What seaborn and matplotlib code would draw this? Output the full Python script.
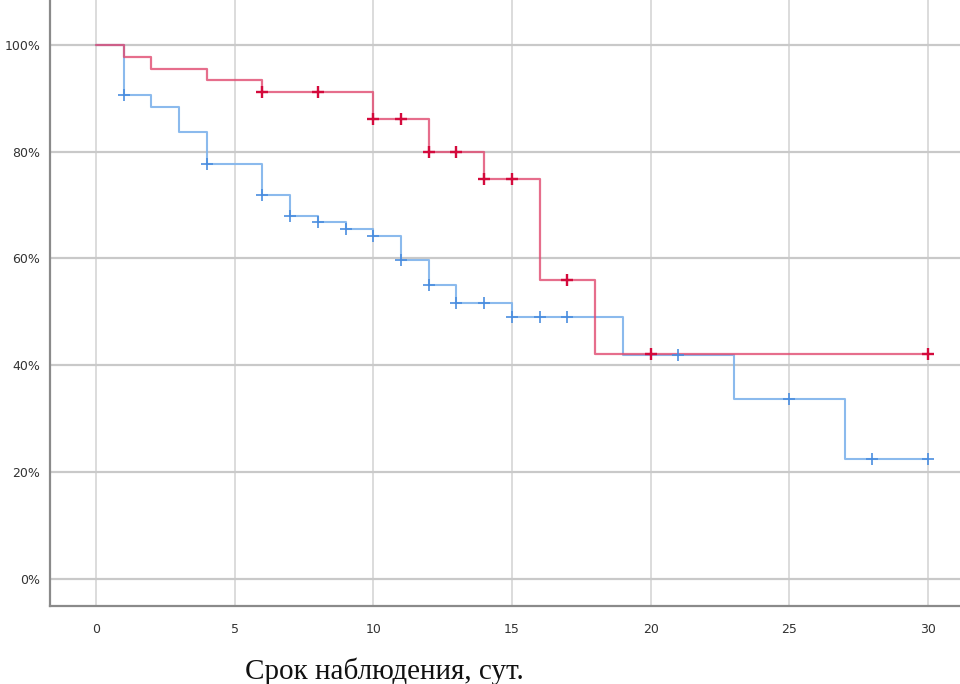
import numpy as np
import pandas as pd
import seaborn as sns
import matplotlib
matplotlib.use("Agg")
import matplotlib.pyplot as plt

# step curves (time, survival %)
red_t = [0, 1, 2, 4, 6, 10, 12, 14, 16, 18, 30]
red_s = [100, 97.8, 95.5, 93.4, 91.1, 86.1, 79.9, 74.9, 56.0, 42.1, 42.1]
red_cens = [6, 8, 10, 11, 12, 13, 14, 15, 17, 20, 30]

blue_t = [0, 1, 2, 3, 4, 6, 7, 8, 9, 10, 11, 12, 13, 15, 19, 23, 27, 30]
blue_s = [100, 90.7, 88.3, 83.6, 77.7, 71.8, 68.0, 66.8, 65.5, 64.2, 59.7,
          55.0, 51.6, 49.0, 42.0, 33.6, 22.4, 22.4]
blue_cens = [1, 4, 6, 7, 8, 9, 10, 11, 12, 13, 14, 15, 16, 17, 21, 25, 28, 30]

x_ticks = [0, 5, 10, 15, 20, 25, 30]
y_ticks = [0, 20, 40, 60, 80, 100]
x_label = "Срок наблюдения, сут."

RED_LINE, RED_MARK = "#e04a70", "#d40a3c"
BLUE_LINE, BLUE_MARK = "#7fb3ec", "#4a8ddf"


def censor_df(t, s, cens):
    idx = np.searchsorted(t, cens, side="right") - 1
    return pd.DataFrame({"t": cens, "s": np.array(s)[idx]})


sns.set_style("white")
plt.rcParams["font.family"] = ["Liberation Sans Narrow", "DejaVu Sans"]

fig = plt.figure(figsize=(9.6, 6.84), dpi=100)
ax = fig.add_axes([50 / 960, 78 / 684, 910 / 960, 606 / 684])

ax.set_axisbelow(True)
ax.set_xticks(x_ticks)
ax.set_yticks(y_ticks)
ax.grid(axis="y", color="#c9c9c9", linewidth=1.6, zorder=0)
ax.grid(axis="x", color="#d2d2d2", linewidth=1.1, zorder=0)

red_df = pd.DataFrame({"t": red_t, "s": red_s})
blue_df = pd.DataFrame({"t": blue_t, "s": blue_s})

sns.lineplot(data=blue_df, x="t", y="s", ax=ax, drawstyle="steps-post",
             color=BLUE_LINE, linewidth=1.5, alpha=0.9, estimator=None, sort=False)
sns.lineplot(data=red_df, x="t", y="s", ax=ax, drawstyle="steps-post",
             color=RED_LINE, linewidth=1.6, alpha=0.8, estimator=None, sort=False)

sns.scatterplot(data=censor_df(blue_t, blue_s, blue_cens), x="t", y="s", ax=ax,
                marker="+", s=80, color=BLUE_MARK, linewidth=1.2, zorder=5)
sns.scatterplot(data=censor_df(red_t, red_s, red_cens), x="t", y="s", ax=ax,
                marker="+", s=80, color=RED_MARK, linewidth=1.7, zorder=6)

ax.set_xlim(-1.66, 31.16)
ax.set_ylim(-5.1, 108.4)
ax.set_yticklabels([f"{v}%" for v in y_ticks])
ax.set_xticklabels([str(v) for v in x_ticks])
ax.tick_params(axis="both", length=0, labelsize=9, colors="#333333")
ax.tick_params(axis="y", pad=7)
ax.tick_params(axis="x", pad=12)

for side in ["top", "right"]:
    ax.spines[side].set_visible(False)
for side in ["left", "bottom"]:
    ax.spines[side].set_color("#8a8a8a")
    ax.spines[side].set_linewidth(1.6)

ax.set_ylabel("")
ax.set_xlabel("")
fig.text(384 / 960, 1 - 671 / 684, x_label, ha="center", va="center",
         fontsize=21, family=["Liberation Serif", "DejaVu Serif"], color="#111111")

fig.savefig("out.png", dpi=100)
